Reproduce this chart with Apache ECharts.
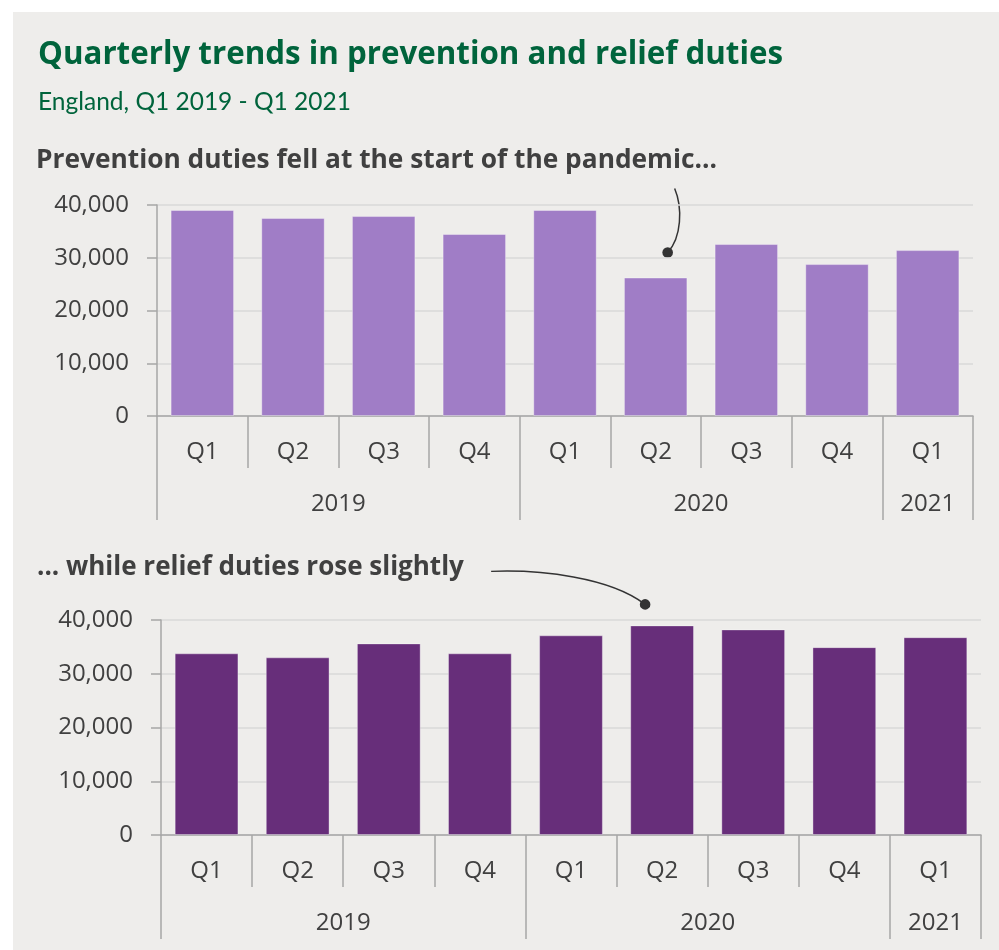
<!DOCTYPE html>
<html>
<head>
<meta charset="utf-8">
<script src="https://cdn.jsdelivr.net/npm/echarts@6/dist/echarts.min.js"></script>
<style>
  html, body { margin: 0; padding: 0; background: #ffffff; }
  #chart { width: 999px; height: 950px; }
</style>
</head>
<body>
<div id="chart"></div>
<script>
// Quarter labels, year groups and the two duty series (England, Q1 2019 - Q1 2021)
const quarters = ['Q1', 'Q2', 'Q3', 'Q4', 'Q1', 'Q2', 'Q3', 'Q4', 'Q1'];
const years = ['2019', '2020', '2021'];
const quartersPerYear = [4, 4, 1];
const preventionDuties = [39050, 37550, 37900, 34500, 39050, 26250, 32600, 28800, 31450];
const reliefDuties = [33800, 33050, 35650, 33800, 37150, 39000, 38250, 34950, 36800];
const valueMax = 40000;
const valueStep = 10000;

const titleText = 'Quarterly trends in prevention and relief duties';
const subtitleText = 'England, Q1 2019 - Q1 2021';
const preventionHeading = 'Prevention duties fell at the start of the pandemic...';
const reliefHeading = '... while relief duties rose slightly';

const GREEN = '#00643c';
const INK = '#404040';
const AXIS = '#a6a6a6';
const GRIDLINE = '#d9d9d9';
const BG = '#eeedeb';
const LABEL_FONT = '"Open Sans", "Noto Sans", sans-serif';

// Year boundaries and centres along the quarter axis
const yearEdges = [0];
quartersPerYear.forEach(n => yearEdges.push(yearEdges[yearEdges.length - 1] + n));
const yearCentres = quartersPerYear.map((n, i) => yearEdges[i] + n / 2);

function fmtThousands(v) {
  return String(v).replace(/\B(?=(\d{3})+(?!\d))/g, ',');
}

function quarterAxis(gridIndex) {
  return {
    gridIndex: gridIndex,
    type: 'category',
    data: quarters,
    position: 'bottom',
    boundaryGap: true,
    axisLine: { show: true, lineStyle: { color: AXIS, width: 1.5 } },
    axisTick: { show: true, interval: 0, length: 52, lineStyle: { color: AXIS, width: 1.5 } },
    axisLabel: {
      interval: 0, margin: 24, color: INK,
      fontFamily: LABEL_FONT, fontSize: 24, lineHeight: 24
    },
    splitLine: { show: false }
  };
}

function yearAxis(gridIndex) {
  return {
    gridIndex: gridIndex,
    type: 'value',
    position: 'bottom',
    min: 0,
    max: quarters.length,
    axisLine: { show: false },
    axisTick: {
      show: true, length: 104, customValues: yearEdges,
      lineStyle: { color: AXIS, width: 1.5 }
    },
    axisLabel: {
      show: true, customValues: yearCentres, margin: 76, color: INK,
      fontFamily: LABEL_FONT, fontSize: 24, lineHeight: 24,
      formatter: function (v) {
        const i = yearCentres.indexOf(v);
        return i >= 0 ? years[i] : '';
      }
    },
    splitLine: { show: false }
  };
}

function valueAxis(gridIndex) {
  return {
    gridIndex: gridIndex,
    type: 'value',
    min: 0,
    max: valueMax,
    interval: valueStep,
    axisLine: { show: true, lineStyle: { color: AXIS, width: 1.5 } },
    axisTick: { show: true, length: 10, lineStyle: { color: AXIS, width: 1.5 } },
    axisLabel: {
      margin: 28, color: INK, fontFamily: LABEL_FONT, fontSize: 24,
      formatter: fmtThousands
    },
    splitLine: { show: true, lineStyle: { color: GRIDLINE, width: 1.5 } }
  };
}

function barSeries(name, idx, values, colour) {
  return {
    name: name,
    type: 'bar',
    xAxisIndex: idx * 2,
    yAxisIndex: idx,
    data: values,
    barCategoryGap: '30%',
    itemStyle: { color: colour, borderColor: 'rgba(255,255,255,0.35)', borderWidth: 1 },
    emphasis: { disabled: true },
    silent: true
  };
}

function headingText(text, x, y, size, weight, colour, family) {
  return {
    type: 'text',
    x: x, y: y,
    silent: true,
    style: {
      text: text, fill: colour,
      fontFamily: family, fontSize: size, fontWeight: weight,
      align: 'left', verticalAlign: 'middle'
    }
  };
}

const chart = echarts.init(document.getElementById('chart'), null, { renderer: 'canvas' });

const baseGraphics = [
  { type: 'rect', id: 'bg', z: -100, silent: true,
    shape: { x: 13, y: 12, width: 999, height: 950 }, style: { fill: BG } },
  headingText(titleText, 38, 55, 31.3, 'bold', GREEN, '"Open Sans", sans-serif'),
  headingText(subtitleText, 38, 102, 24.5, 'normal', GREEN, 'Lato, sans-serif'),
  headingText(preventionHeading, 36, 161, 26.3, 'bold', INK, LABEL_FONT),
  headingText(reliefHeading, 37, 568, 26, 'bold', INK, LABEL_FONT)
];

chart.setOption({
  backgroundColor: '#ffffff',
  animation: false,
  grid: [
    { left: 157, right: 26, top: 205, height: 211, containLabel: false, outerBoundsMode: 'none' },
    { left: 161, right: 18, top: 620, height: 215, containLabel: false, outerBoundsMode: 'none' }
  ],
  xAxis: [quarterAxis(0), yearAxis(0), quarterAxis(1), yearAxis(1)],
  yAxis: [valueAxis(0), valueAxis(1)],
  series: [
    barSeries('Prevention duties', 0, preventionDuties, '#a07dc6'),
    barSeries('Relief duties', 1, reliefDuties, '#672e7a')
  ],
  graphic: baseGraphics
});

// Callouts pointing at the Q2 2020 bars
function callout(seriesIndex, values, dx, dy, path) {
  const i = 5;
  const p = chart.convertToPixel({ seriesIndex: seriesIndex }, [i, values[i]]);
  const dot = [p[0] + dx, p[1] + dy];
  return [
    { type: 'bezierCurve', silent: true,
      shape: {
        x1: dot[0] + path[0], y1: dot[1] + path[1],
        cpx1: dot[0] + path[2], cpy1: dot[1] + path[3],
        cpx2: dot[0] + path[4], cpy2: dot[1] + path[5],
        x2: dot[0], y2: dot[1]
      },
      style: { stroke: '#333333', lineWidth: 1.5, fill: null } },
    { type: 'circle', silent: true,
      shape: { cx: dot[0], cy: dot[1], r: 5.3 }, style: { fill: '#333333' } }
  ];
}

const calloutGraphics = []
  .concat(callout(0, preventionDuties, 12, -25, [7, -64, 15, -45, 14, -15]))
  .concat(callout(1, reliefDuties, -17, -21, [-154, -33, -105, -35, -35, -27]));

chart.setOption({ graphic: baseGraphics.concat(calloutGraphics) });
</script>
</body>
</html>
